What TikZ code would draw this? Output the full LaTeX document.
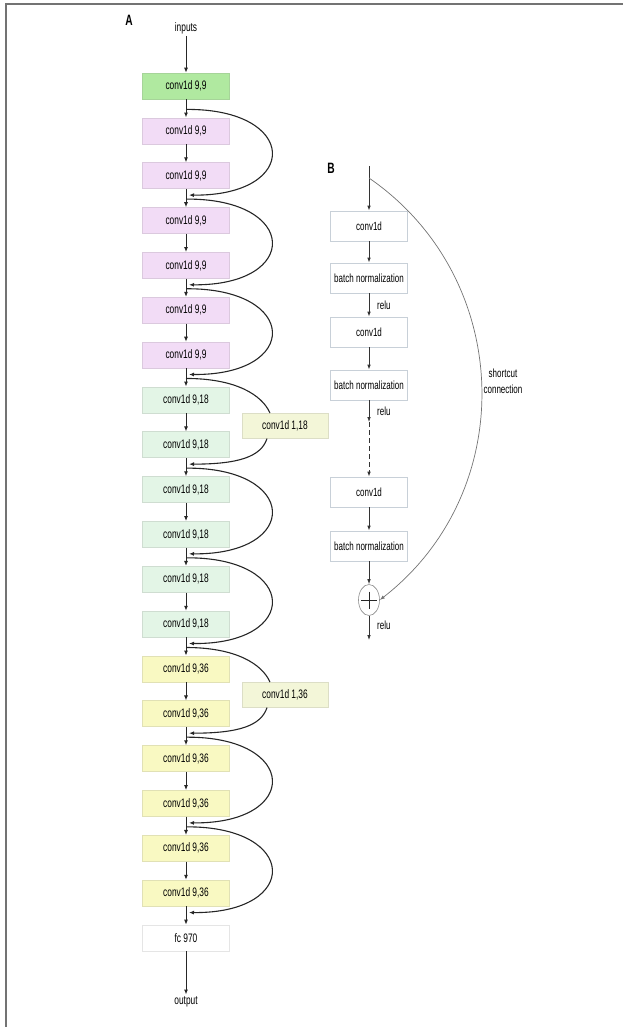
\documentclass[tikz,border=0pt]{standalone}
\usepackage{fontspec}
\setmainfont[FakeStretch=0.68]{Liberation Sans}
\usetikzlibrary{arrows.meta,calc,shapes.geometric}
\definecolor{cgreen}{HTML}{B0E9A0}
\definecolor{cpink}{HTML}{F2DCF6}
\definecolor{cmint}{HTML}{E3F5E6}
\definecolor{cyel}{HTML}{F9F9C2}
\definecolor{cproj}{HTML}{F3F6D8}
\definecolor{cbord}{HTML}{C8D0D8}
\begin{document}
\begin{tikzpicture}[x=1pt,y=-1pt,
  font=\fontsize{12.3}{14}\selectfont,
  abox/.style={draw=#1!80!gray, fill=#1, minimum width=87pt, minimum height=26pt, inner sep=0pt, line width=0.6pt},
  bbox/.style={draw=cbord, fill=white, minimum width=77pt, minimum height=30pt, inner sep=0pt, line width=0.7pt, font=\fontsize{11.8}{13}\selectfont},
  arr/.style={-{Latex[length=5pt,width=4pt]}, line width=1pt, draw=black!85},
  skipc/.style={arr, line width=1.1pt},
  barr/.style={-{Latex[length=5pt,width=3.6pt]}, line width=0.8pt, draw=black!80},
  lbl/.style={font=\fontsize{11.8}{13}\selectfont, anchor=west, inner sep=0pt},
  panel/.style={font=\bfseries\fontsize{15}{17}\selectfont, inner sep=0pt}]
\useasboundingbox (0,0) rectangle (623,1027);
% partial frame
\draw[black!55, line width=1.5pt] (6,1027) -- (6,4) -- (623,4);

% ---------- Panel A ----------
\node[panel] (labA) at (129,20) {A};
\node[inner sep=2pt] (in) at (186,28) {inputs};
\foreach \i/\c/\t in {0/cgreen/{conv1d 9,9},1/cpink/{conv1d 9,9},2/cpink/{conv1d 9,9},3/cpink/{conv1d 9,9},4/cpink/{conv1d 9,9},5/cpink/{conv1d 9,9},6/cpink/{conv1d 9,9},
  7/cmint/{conv1d 9,18},8/cmint/{conv1d 9,18},9/cmint/{conv1d 9,18},10/cmint/{conv1d 9,18},11/cmint/{conv1d 9,18},12/cmint/{conv1d 9,18},
  13/cyel/{conv1d 9,36},14/cyel/{conv1d 9,36},15/cyel/{conv1d 9,36},16/cyel/{conv1d 9,36},17/cyel/{conv1d 9,36},18/cyel/{conv1d 9,36},19/white/{fc 970}}{
  \node[abox=\c] (b\i) at (186,{86+44.84*\i}) {\t};
}
\node[inner sep=2pt] (out) at (186,1002) {output};

\draw[arr] (in) -- (b0);
\foreach \i in {0,...,18}{
  \pgfmathtruncatemacro{\j}{\i+1}
  \draw[arr] (b\i) -- (b\j);
}
\draw[arr] (b19) -- (out);

% junction points
\foreach \k in {0,2,...,18}{
  \coordinate (jo\k) at (186,{86+44.84*\k+22.42+1});
  \coordinate (ji\k) at (189,{86+44.84*\k+22.42-3});
}
% residual skips
\foreach \a/\b in {0/2,2/4,4/6,8/10,10/12,14/16,16/18}{
  \draw[skipc] (jo\a) .. controls +(113,-1) and +(112,1) .. (ji\b);
}
% projection shortcuts
\node[abox=cproj, minimum width=86pt, minimum height=25pt] (p1) at (285,{86+44.84*7+22.42+3.5}) {conv1d 1,18};
\node[abox=cproj, minimum width=86pt, minimum height=25pt] (p2) at (285,{86+44.84*13+22.42+3.5}) {conv1d 1,36};
\draw[line width=1.1pt, black!85] (jo6) .. controls +(50,0) and +(-8,-18) .. ([xshift=-15pt]p1.north);
\draw[skipc] ([xshift=-18pt]p1.south) .. controls +(-6,18) and +(50,0) .. (ji8);
\draw[line width=1.1pt, black!85] (jo12) .. controls +(50,0) and +(-8,-18) .. ([xshift=-15pt]p2.north);
\draw[skipc] ([xshift=-18pt]p2.south) .. controls +(-6,18) and +(50,0) .. (ji14);

% ---------- Panel B ----------
\node[panel] (labB) at (331,168) {B};
\coordinate (bt) at (369,166);
\coordinate (bs) at (369,178);
\node[bbox] (c1) at (369,226) {conv1d};
\node[bbox] (n1) at (369,278) {batch normalization};
\node[bbox] (c2) at (369,332) {conv1d};
\node[bbox] (n2) at (369,385) {batch normalization};
\coordinate (dm) at (369,422);
\node[bbox] (c3) at (369,492) {conv1d};
\node[bbox] (n3) at (369,546) {batch normalization};
\node[draw=black!45, fill=white, ellipse, minimum width=21pt, minimum height=31pt, inner sep=0pt, line width=0.6pt] (plus) at (369,600) {};
\draw[line width=1pt, black!85] ($(plus.center)+(-8,0)$) -- ($(plus.center)+(8,0)$);
\draw[line width=1pt, black!85] ($(plus.center)+(0,-8.5)$) -- ($(plus.center)+(0,8.5)$);
\coordinate (be) at (369,640);

\draw[barr] (bt) -- (c1);
\draw[barr] (c1) -- (n1);
\draw[barr] (n1) -- (c2);
\draw[barr] (c2) -- (n2);
\draw[barr] (n2) -- (dm);
\draw[barr, dashed, dash pattern=on 5pt off 3pt] (dm) -- (c3);
\draw[barr] (c3) -- (n3);
\draw[barr] (n3) -- (plus);
\draw[barr] (plus) -- (be);

\node[lbl] (r1) at (377,305) {relu};
\node[lbl] (r2) at (377,411) {relu};
\node[lbl] (r3) at (377,625) {relu};

\draw[-{Latex[length=5pt,width=3.6pt]}, line width=0.7pt, black!55] (bs) .. controls (514,278) and (520,491) .. (plus.east);
\node[align=center, font=\fontsize{11.8}{16}\selectfont, inner sep=0pt] (sc) at (503,381) {shortcut\\connection};
\end{tikzpicture}
\end{document}
